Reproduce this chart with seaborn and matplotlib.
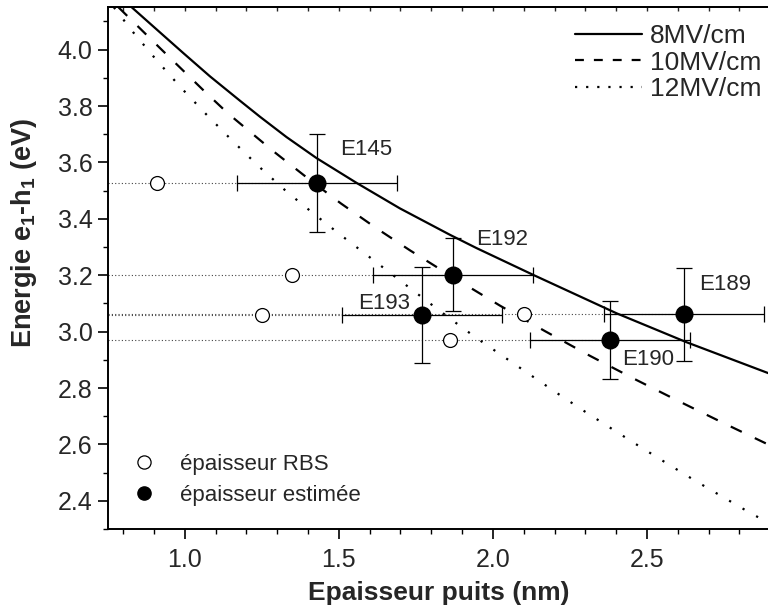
import matplotlib
matplotlib.use('Agg')
import matplotlib.pyplot as plt
from matplotlib.lines import Line2D
import seaborn as sns
import pandas as pd
import numpy as np

# échantillons
samples = ['E145', 'E192', 'E193', 'E189', 'E190']
ep_rbs = [0.909, 1.349, 1.25, 2.101, 1.861]        # épaisseur RBS (nm)
ep_est = [1.43, 1.871, 1.769, 2.62, 2.38]          # épaisseur estimée (nm)
energie = [3.527, 3.202, 3.059, 3.062, 2.971]      # e1-h1 (eV)
err_ep = [0.26, 0.26, 0.26, 0.26, 0.26]
err_e = [0.174, 0.13, 0.17, 0.165, 0.138]

# courbes théoriques
d_8 = [0.828, 0.898, 0.995, 1.082, 1.18, 1.244, 1.33, 1.428, 1.558, 1.698,
       1.861, 1.947, 2.131, 2.401, 2.629, 2.90]
e_8 = [4.15, 4.082, 3.988, 3.905, 3.818, 3.762, 3.69, 3.615, 3.527, 3.437,
       3.343, 3.296, 3.201, 3.065, 2.962, 2.85]
d_10 = [0.785, 0.92, 1.066, 1.141, 1.287, 1.40, 1.506, 1.62, 1.731, 1.87,
        2.023, 2.17, 2.315, 2.461, 2.609, 2.755, 2.90]
e_10 = [4.15, 4.005, 3.85, 3.773, 3.64, 3.543, 3.455, 3.368, 3.288, 3.193,
        3.092, 3.001, 2.914, 2.831, 2.75, 2.672, 2.596]
d_12 = [0.77, 0.833, 0.909, 0.987, 1.071, 1.157, 1.244, 1.331, 1.423, 1.509,
        1.601, 1.688, 1.774, 1.861, 1.947, 2.039, 2.126, 2.212, 2.299, 2.389,
        2.477, 2.564, 2.652, 2.739, 2.827, 2.90]
e_12 = [4.15, 4.061, 3.962, 3.866, 3.769, 3.674, 3.582, 3.496, 3.414, 3.340,
        3.263, 3.190, 3.118, 3.046, 2.977, 2.908, 2.843, 2.779, 2.716, 2.653,
        2.592, 2.533, 2.474, 2.418, 2.362, 2.318]

sns.set_theme(style='ticks')
plt.rcParams['font.family'] = ['Liberation Sans', 'DejaVu Sans']
plt.rcParams['mathtext.fontset'] = 'custom'
plt.rcParams['mathtext.rm'] = 'Liberation Sans'
plt.rcParams['mathtext.bf'] = 'Liberation Sans:bold'

fig = plt.figure(figsize=(7.68, 6.16), dpi=100)
ax = fig.add_axes([107.7 / 768, 87 / 616, 662.6 / 768, 521.7 / 616])

# lignes pointillées de référence
ax.hlines(energie, 0.75, ep_est, colors='#444444', linewidth=0.8,
          linestyles=[(0, (1, 2))], zorder=1)

df8 = pd.DataFrame({'d': d_8, 'E': e_8})
df10 = pd.DataFrame({'d': d_10, 'E': e_10})
df12 = pd.DataFrame({'d': d_12, 'E': e_12})
sns.lineplot(data=df8, x='d', y='E', sort=False, estimator=None, color='black',
             linewidth=1.6, ax=ax, zorder=3)
sns.lineplot(data=df10, x='d', y='E', sort=False, estimator=None, color='black',
             linewidth=1.6, linestyle=(0, (5.5, 6.5)), ax=ax, zorder=3)
sns.lineplot(data=df12, x='d', y='E', sort=False, estimator=None, color='black',
             linewidth=1.6, linestyle=(0, (1, 6)), ax=ax, zorder=3)

ax.errorbar(ep_est, energie, xerr=err_ep, yerr=err_e, fmt='none', ecolor='black',
            elinewidth=0.9, capsize=5.5, capthick=0.9, zorder=2)

pts = pd.DataFrame({'rbs': ep_rbs, 'est': ep_est, 'E': energie})
sns.scatterplot(data=pts, x='rbs', y='E', s=100, facecolor='white',
                edgecolor='black', linewidth=0.9, ax=ax, zorder=4)
sns.scatterplot(data=pts, x='est', y='E', s=169, color='black',
                edgecolor='black', linewidth=0, ax=ax, zorder=5)

# étiquettes des échantillons
lab_pos = {'E145': (1.504, 3.645), 'E192': (1.947, 3.328), 'E193': (1.563, 3.098),
           'E189': (2.669, 3.166), 'E190': (2.418, 2.902)}
for s in samples:
    ax.text(lab_pos[s][0], lab_pos[s][1], s, fontsize=16, ha='left', va='center')

ax.set_xlim(0.75, 2.9)
ax.set_ylim(2.3, 4.15)
ax.set_xticks([1.0, 1.5, 2.0, 2.5])
ax.set_xticks(np.arange(0.8, 2.95, 0.1), minor=True)
ax.set_yticks([2.4, 2.6, 2.8, 3.0, 3.2, 3.4, 3.6, 3.8, 4.0])
ax.set_yticks(np.arange(2.3, 4.15, 0.1), minor=True)
ax.xaxis.set_major_formatter(matplotlib.ticker.FormatStrFormatter('%.1f'))
ax.yaxis.set_major_formatter(matplotlib.ticker.FormatStrFormatter('%.1f'))
ax.tick_params(axis='both', which='major', direction='out', length=7, width=1.2,
               labelsize=18, color='black', pad=4)
ax.tick_params(axis='x', which='major', pad=7)
ax.tick_params(axis='both', which='minor', direction='out', length=3.5, width=1.0,
               color='black')
for sp in ['left', 'bottom', 'top', 'right']:
    ax.spines[sp].set_linewidth(1.4)
    ax.spines[sp].set_color('black')

# graduations de l'axe du haut (vers l'intérieur)
top = ax.secondary_xaxis('top')
top.set_xticks([1.0, 1.5, 2.0, 2.5])
top.set_xticks(np.arange(0.8, 2.95, 0.1), minor=True)
top.tick_params(which='both', direction='in', length=3, width=1.0, labeltop=False)
top.spines['top'].set_linewidth(1.4)

ax.set_xlabel('Epaisseur puits (nm)', fontsize=19, fontweight='bold', labelpad=6)
ax.set_ylabel(r'Energie e$_\mathbf{1}$-h$_\mathbf{1}$ (eV)', fontsize=19.5,
              fontweight='bold')
ax.yaxis.set_label_coords(-0.104, 0.567)

# légende des courbes
h_lines = [Line2D([], [], color='black', linewidth=1.6),
           Line2D([], [], color='black', linewidth=1.6, linestyle=(0, (4, 4.5))),
           Line2D([], [], color='black', linewidth=1.6, linestyle=(0, (1, 4)))]
leg1 = ax.legend(h_lines, ['8MV/cm', '10MV/cm', '12MV/cm'], loc='upper left',
                 bbox_to_anchor=(0.705, 0.968), frameon=False, fontsize=19,
                 handlelength=2.55, handletextpad=0.3, labelspacing=0.1,
                 borderpad=0, borderaxespad=0)
ax.add_artist(leg1)

h_pts = [Line2D([], [], marker='o', linestyle='none', markersize=9.5,
                markerfacecolor='white', markeredgecolor='black', markeredgewidth=0.9),
         Line2D([], [], marker='o', linestyle='none', markersize=9.5,
                markerfacecolor='black', markeredgecolor='black')]
ax.legend(h_pts, ['épaisseur RBS', 'épaisseur estimée'], loc='lower left',
          bbox_to_anchor=(0.034, 0.044), frameon=False, fontsize=16,
          handlelength=1.2, handletextpad=1.05, labelspacing=0.45,
          borderpad=0, borderaxespad=0)

fig.savefig('out.png', dpi=100)
